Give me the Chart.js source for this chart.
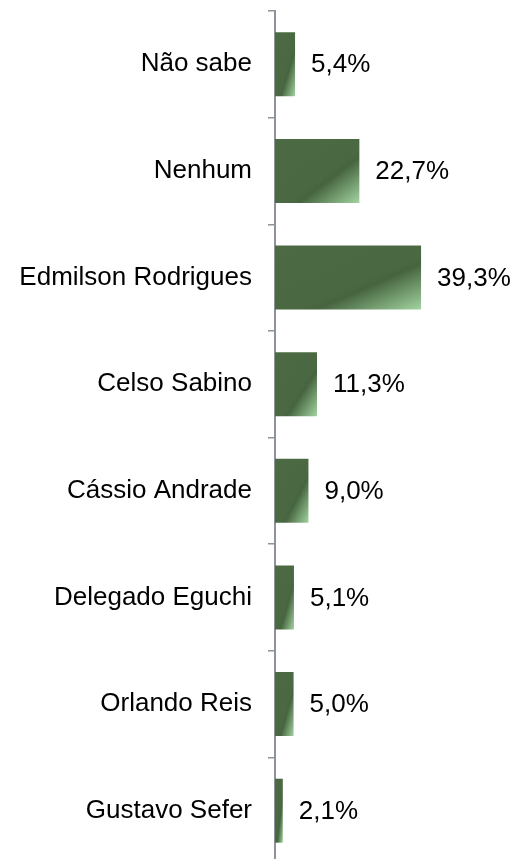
<!DOCTYPE html>
<html>
<head>
<meta charset="utf-8">
<script src="https://cdn.jsdelivr.net/npm/chart.js@4.4.0/dist/chart.umd.min.js"></script>
<style>
  html, body { margin: 0; padding: 0; background: #ffffff; overflow: hidden; }
  #wrap { position: relative; width: 514px; height: 870px; }
</style>
</head>
<body>
<div id="wrap"><canvas id="c"></canvas></div>
<script>
const categories = ["Não sabe", "Nenhum", "Edmilson Rodrigues", "Celso Sabino", "Cássio Andrade", "Delegado Eguchi", "Orlando Reis", "Gustavo Sefer"];
const values = [5.4, 22.7, 39.3, 11.3, 9.0, 5.1, 5.0, 2.1];

const FONT = "'Liberation Sans', Arial, sans-serif";

const gradientPlugin = {
  id: 'barGradient',
  beforeDatasetsDraw(chart) {
    const ctx = chart.ctx;
    chart.getDatasetMeta(0).data.forEach(el => {
      const x0 = Math.min(el.base, el.x), x1 = Math.max(el.base, el.x);
      const y0 = el.y - el.height / 2;
      const w = Math.max(x1 - x0, 1), h = Math.max(el.height, 1);
      const k = 2 * w * h / (w * w + h * h);
      const g = ctx.createLinearGradient(x0, y0, x0 + k * h, y0 + k * w);
      g.addColorStop(0, '#4c6b44');
      g.addColorStop(0.58, '#4a6942');
      g.addColorStop(0.64, '#46643f');
      g.addColorStop(1, '#a2d4a0');
      el.options = Object.assign({}, el.options, { backgroundColor: g });
    });
  }
};

const valueLabelPlugin = {
  id: 'valueLabels',
  afterDatasetsDraw(chart) {
    const ctx = chart.ctx;
    ctx.save();
    ctx.font = "26px " + FONT;
    ctx.fillStyle = '#000000';
    ctx.textAlign = 'left';
    ctx.textBaseline = 'middle';
    chart.getDatasetMeta(0).data.forEach((el, i) => {
      const txt = values[i].toFixed(1).replace('.', ',') + '%';
      ctx.fillText(txt, el.x + 16, el.y + 1);
    });
    ctx.restore();
  }
};

new Chart(document.getElementById('c'), {
  type: 'bar',
  data: {
    labels: categories,
    datasets: [{
      data: values,
      backgroundColor: '#4b6a43',
      borderWidth: 0,
      barPercentage: 0.6,
      categoryPercentage: 1.0
    }]
  },
  options: {
    indexAxis: 'y',
    responsive: true,
    maintainAspectRatio: false,
    animation: false,
    layout: { padding: { top: 11, bottom: 6, left: 0, right: 16 } },
    plugins: { legend: { display: false }, tooltip: { enabled: false } },
    scales: {
      x: { display: false, min: 0, max: 60 },
      y: {
        afterFit(s) { s.width = 275; s.paddingTop = 0; s.paddingBottom = 0; },
        grid: { drawOnChartArea: false, tickLength: 7, color: '#8e939a', lineWidth: 1.5 },
        border: { display: true, color: '#8e939a', width: 2 },
        ticks: { color: '#000000', padding: 16, font: { family: FONT, size: 26 } }
      }
    }
  },
  plugins: [gradientPlugin, valueLabelPlugin]
});
</script>
</body>
</html>
